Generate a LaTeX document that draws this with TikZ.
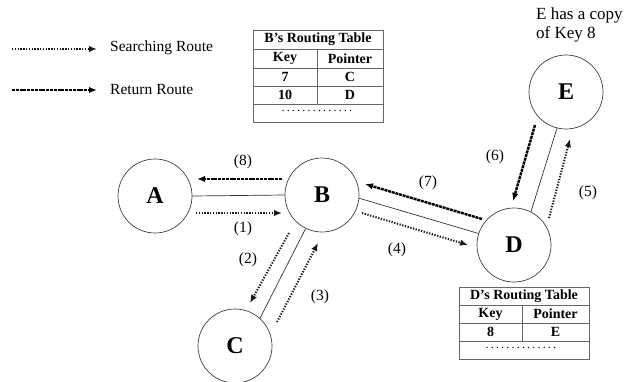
\documentclass[tikz,border=0pt]{standalone}
\usepackage{fontspec}
\setmainfont{Liberation Serif}
\usetikzlibrary{arrows.meta}
\newcommand\dotrow[1]{\hbox to #1{\leaders\hbox to 5.2pt{\hss.\hss}\hfill}}
\begin{document}
\begin{tikzpicture}[x=1pt, y=-1pt,
  peer/.style={circle, draw=black!75, line width=0.7pt, minimum size=74pt,
    inner sep=0pt, font=\fontsize{24}{24}\selectfont\bfseries},
  link/.style={draw=black!80, line width=0.7pt},
  search/.style={line width=2pt, dash pattern=on 1.3pt off 1.5pt, black!90,
    -{Latex[length=8pt,width=6.5pt]}},
  back/.style={line width=2.4pt, dash pattern=on 3pt off 0.8pt, black,
    -{Latex[length=8pt,width=6.5pt]}},
  lbl/.style={font=\fontsize{15.5}{15.5}\selectfont, inner sep=0pt},
  note/.style={font=\fontsize{17}{17}\selectfont, inner sep=0pt, anchor=west},
  tbl/.style={draw=black!60, line width=0.8pt},
  cell/.style={font=\fontsize{14}{14}\selectfont\bfseries, inner sep=0pt},
  dots/.style={font=\fontsize{12}{12}\selectfont, inner sep=0pt},
]
\useasboundingbox (0,0) rectangle (626,381);

% legend
\coordinate (s1) at (12,49);  \coordinate (s2) at (97,49);
\coordinate (r1) at (12,90);  \coordinate (r2) at (97,90);
\draw[search] (s1) -- (s2);
\draw[back] (r1) -- (r2);
\node[lbl, anchor=west] (ls) at (110,48) {Searching Route};
\node[lbl, anchor=west] (lr) at (110,89) {Return Route};

% peers
\node[peer] (A) at (155,196) {A};
\node[peer] (B) at (322,195) {B};
\node[peer] (C) at (235,346) {C};
\node[peer] (D) at (514,245) {D};
\node[peer] (E) at (566,92) {E};

\node[note] (n1) at (536,15) {E has a copy};
\node[note] (n2) at (536,34) {of Key 8};

% overlay links
\draw[link] (A.east) -- (B.west);
\draw[link] (B.244) -- (C.48);
\draw[link] (B.-5) -- (D.162);
\draw[link] (D.63) -- (E.256);

% route arrows
\coordinate (a1s) at (196,213); \coordinate (a1e) at (282,213);
\coordinate (a8s) at (282,179); \coordinate (a8e) at (197,179);
\coordinate (a2s) at (289,233); \coordinate (a2e) at (250,303);
\coordinate (a3s) at (277,322); \coordinate (a3e) at (318,243);
\coordinate (a4s) at (362,213); \coordinate (a4e) at (468,245);
\coordinate (a7s) at (482,219); \coordinate (a7e) at (365,184);
\coordinate (a6s) at (535,125); \coordinate (a6e) at (513,201);
\coordinate (a5s) at (549,218); \coordinate (a5e) at (570,139);

\draw[search] (a1s) -- (a1e);
\draw[back]   (a8s) -- (a8e);
\draw[search] (a2s) -- (a2e);
\draw[search] (a3s) -- (a3e);
\draw[search] (a4s) -- (a4e);
\draw[back]   (a7s) -- (a7e);
\draw[back]   (a6s) -- (a6e);
\draw[search] (a5s) -- (a5e);

\node[lbl] (l1) at (243,229) {(1)};
\node[lbl] (l2) at (248,260) {(2)};
\node[lbl] (l3) at (320,297) {(3)};
\node[lbl] (l4) at (397,250) {(4)};
\node[lbl] (l5) at (588,193) {(5)};
\node[lbl] (l6) at (495,157) {(6)};
\node[lbl] (l7) at (428,183) {(7)};
\node[lbl] (l8) at (243,162) {(8)};

% B's routing table
\draw[tbl] (253,30) rectangle (383,122);
\draw[tbl] (253,49) -- (383,49);
\draw[tbl] (253,68) -- (383,68);
\draw[tbl] (253,86) -- (383,86);
\draw[tbl] (253,104) -- (383,104);
\draw[tbl] (317,49) -- (317,104);
\node[cell] (bt) at (318,39.5) {B's Routing Table};
\node[cell] (bk) at (285,58.5) {Key};
\node[cell] (bp) at (350,58.5) {Pointer};
\node[cell] (bk1) at (285,77) {7};
\node[cell] (bp1) at (350,77) {C};
\node[cell] (bk2) at (285,95) {10};
\node[cell] (bp2) at (350,95) {D};
\node[dots] (bd) at (317,111) {\dotrow{73pt}};

% D's routing table
\draw[tbl] (459,287) rectangle (589,359);
\draw[tbl] (459,305) -- (589,305);
\draw[tbl] (459,323) -- (589,323);
\draw[tbl] (459,341) -- (589,341);
\draw[tbl] (522,305) -- (522,341);
\node[cell] (dt) at (524,296) {D's Routing Table};
\node[cell] (dk) at (490.5,314) {Key};
\node[cell] (dp) at (555.5,314) {Pointer};
\node[cell] (dk1) at (490.5,332) {8};
\node[cell] (dp1) at (555.5,332) {E};
\node[dots] (dd) at (522,348) {\dotrow{75pt}};
\end{tikzpicture}
\end{document}
